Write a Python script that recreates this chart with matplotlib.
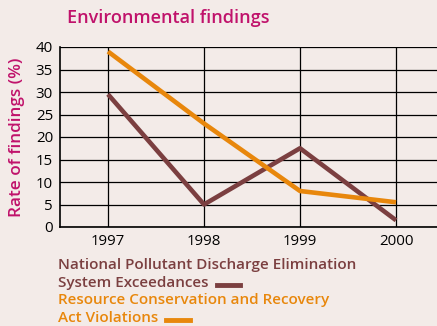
import matplotlib
matplotlib.use('Agg')
from matplotlib import pyplot as plt
from matplotlib.lines import Line2D

# data
years = [1997, 1998, 1999, 2000]
npdes = [29.5, 5, 17.5, 1.5]
rcra = [39, 23, 8, 5.5]
yticks = [0, 5, 10, 15, 20, 25, 30, 35, 40]

bg = '#f3ebe8'
magenta = '#c0126b'
brown = '#7b3f40'
orange = '#e8870c'

plt.rcParams['font.family'] = ['Open Sans', 'DejaVu Sans']

fig = plt.figure(figsize=(4.37, 3.26), dpi=100, facecolor=bg)
ax = fig.add_axes([60/437, 1-227/326, 1-60/437, 180/326], facecolor=bg)

ax.plot(years, npdes, color=brown, lw=3.3, solid_capstyle='butt', zorder=3)
ax.plot(years, rcra, color=orange, lw=3.3, solid_capstyle='butt', zorder=3)

ax.set_xlim(1996.5, 1996.5 + 377/96)
ax.set_ylim(0, 40)
ax.set_xticks(years)
ax.set_yticks(yticks)
ax.grid(True, color='black', lw=0.9)
ax.tick_params(length=0, labelsize=10.8, colors='black', pad=5)
for s in ['top', 'right']:
    ax.spines[s].set_visible(False)
for s in ['left', 'bottom']:
    ax.spines[s].set_color('black')
    ax.spines[s].set_linewidth(1.2)

fig.text(67/437, 1-18/326, 'Environmental findings', color=magenta,
         fontsize=13, fontweight='semibold', ha='left', va='center')
fig.text(17/437, 1-137/326, 'Rate of findings (%)', color=magenta,
         fontsize=12.3, fontweight='semibold', rotation=90, ha='center', va='center')

labels = [('National Pollutant Discharge Elimination', brown, 265, False),
          ('System Exceedances', brown, 283, True),
          ('Resource Conservation and Recovery', orange, 300, False),
          ('Act Violations', orange, 318, True)]
texts = []
for txt, col, y, seg in labels:
    t = fig.text(58/437, 1-y/326, txt, color=col, fontsize=11,
                 fontweight='semibold', ha='left', va='center')
    texts.append((t, col, y, seg))

fig.canvas.draw()
r = fig.canvas.get_renderer()
for t, col, y, seg in texts:
    if seg:
        bb = t.get_window_extent(r)
        x0 = bb.x1 + 8
        fig.add_artist(Line2D([x0/437, (x0+24)/437], [1-(y+2)/326, 1-(y+2)/326],
                              color=col, lw=3.5, transform=fig.transFigure))

fig.savefig('out.png', dpi=100, facecolor=bg)
